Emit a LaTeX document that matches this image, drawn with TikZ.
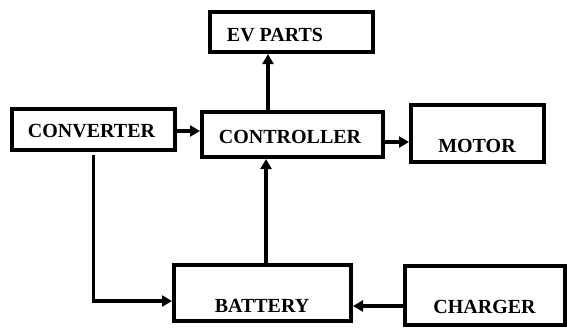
\documentclass[tikz,border=0pt]{standalone}
\usepackage{fontspec}
\setmainfont{Liberation Serif}
\usetikzlibrary{arrows.meta}
\begin{document}
\begin{tikzpicture}[x=1pt,y=-1pt,
  box/.style={draw,line width=4pt,inner sep=0pt},
  lbl/.style={anchor=base,inner sep=0pt,font=\fontsize{20}{21}\selectfont\bfseries},
  arr/.style={line width=3.5pt,-{Triangle[length=10pt,width=11pt]}}]
\useasboundingbox[fill=white] (0,0) rectangle (567,330);
% boxes
\node[box,minimum width=163pt,minimum height=40pt] (ev)   at (291.5,32)   {};
\node[box,minimum width=163pt,minimum height=41pt] (conv) at (93.5,129.5) {};
\node[box,minimum width=181pt,minimum height=45pt] (ctrl) at (292.5,134.5){};
\node[box,minimum width=133pt,minimum height=57pt] (mot)  at (477.5,133.5){};
\node[box,minimum width=177pt,minimum height=56pt] (bat)  at (262.5,293)  {};
\node[box,minimum width=160pt,minimum height=59pt] (chg)  at (485,295.5)  {};
% labels
\node[lbl] (tev)   at (275,41)    {EV PARTS};
\node[lbl] (tconv) at (91.5,137)  {CONVERTER};
\node[lbl] (tctrl) at (290,143)   {CONTROLLER};
\node[lbl] (tmot)  at (477,152)   {MOTOR};
\node[lbl] (tbat)  at (262,312)   {BATTERY};
\node[lbl] (tchg)  at (484.5,313) {CHARGER};
% connectors
\draw[arr] ([xshift=-24.5pt]ctrl.north) -- ([xshift=-24.5pt]ctrl.north |- ev.south);
\draw[arr] ([yshift=-1.5pt]conv.east) -- ([yshift=-1.5pt]conv.east -| ctrl.west);
\draw[arr] ([yshift=-7.5pt]ctrl.east) -- ([yshift=-7.5pt]ctrl.east -| mot.west);
\draw[arr] ([xshift=3.5pt]bat.north) -- ([xshift=3.5pt]bat.north |- ctrl.south);
\draw[arr] ([yshift=-10.5pt]chg.west) -- ([yshift=-10.5pt]chg.west -| bat.east);
\draw[arr] ([yshift=-3pt]conv.south) |- ([yshift=-8pt]bat.west);
\end{tikzpicture}
\end{document}
